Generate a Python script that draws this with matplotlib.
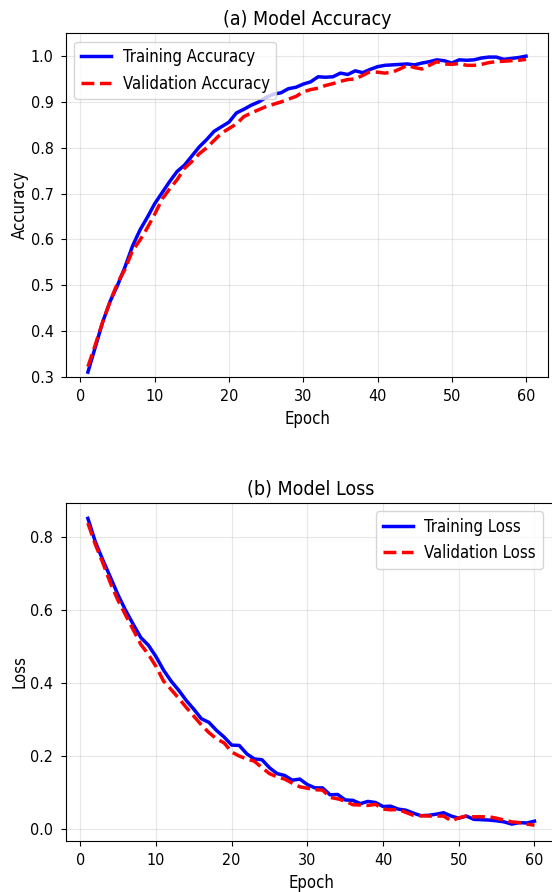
import matplotlib
matplotlib.use("Agg")
import matplotlib.pyplot as plt
import numpy as np

plt.rcParams['font.family'] = ['DejaVu Sans']
plt.rcParams['font.stretch'] = 'condensed'

epochs = np.arange(1, 61)

train_acc = [0.310, 0.365, 0.420, 0.465, 0.500, 0.540, 0.585, 0.620, 0.648, 0.678,
             0.702, 0.726, 0.748, 0.762, 0.782, 0.802, 0.818, 0.836, 0.846, 0.856,
             0.876, 0.884, 0.893, 0.900, 0.910, 0.917, 0.920, 0.929, 0.932, 0.939,
             0.944, 0.955, 0.954, 0.955, 0.963, 0.960, 0.968, 0.964, 0.971, 0.977,
             0.980, 0.981, 0.982, 0.983, 0.981, 0.985, 0.988, 0.992, 0.990, 0.985,
             0.992, 0.991, 0.992, 0.996, 0.998, 0.998, 0.993, 0.995, 0.997, 1.000]
val_acc = [0.322, 0.370, 0.420, 0.465, 0.505, 0.535, 0.575, 0.598, 0.625, 0.655,
           0.688, 0.710, 0.730, 0.755, 0.770, 0.787, 0.800, 0.816, 0.832, 0.842,
           0.852, 0.868, 0.876, 0.883, 0.890, 0.895, 0.900, 0.906, 0.912, 0.922,
           0.927, 0.930, 0.936, 0.940, 0.945, 0.949, 0.950, 0.958, 0.966, 0.965,
           0.963, 0.965, 0.972, 0.980, 0.975, 0.972, 0.980, 0.988, 0.983, 0.982,
           0.984, 0.980, 0.980, 0.982, 0.986, 0.988, 0.989, 0.990, 0.991, 0.993]

train_loss = [0.850, 0.785, 0.735, 0.688, 0.640, 0.598, 0.560, 0.524, 0.503, 0.472,
              0.435, 0.405, 0.380, 0.352, 0.328, 0.302, 0.292, 0.270, 0.252, 0.230,
              0.229, 0.206, 0.192, 0.190, 0.168, 0.152, 0.147, 0.134, 0.137, 0.122,
              0.113, 0.113, 0.094, 0.095, 0.080, 0.079, 0.070, 0.076, 0.073, 0.062,
              0.063, 0.055, 0.052, 0.044, 0.037, 0.038, 0.041, 0.045, 0.036, 0.030,
              0.036, 0.027, 0.026, 0.025, 0.023, 0.020, 0.014, 0.018, 0.017, 0.022]
val_loss = [0.837, 0.778, 0.727, 0.672, 0.625, 0.585, 0.545, 0.505, 0.478, 0.445,
            0.405, 0.382, 0.358, 0.333, 0.309, 0.285, 0.264, 0.247, 0.236, 0.211,
            0.200, 0.192, 0.186, 0.168, 0.152, 0.143, 0.137, 0.126, 0.116, 0.112,
            0.108, 0.107, 0.087, 0.083, 0.077, 0.067, 0.066, 0.065, 0.068, 0.055,
            0.053, 0.054, 0.046, 0.038, 0.037, 0.036, 0.036, 0.036, 0.023, 0.031,
            0.036, 0.034, 0.034, 0.034, 0.030, 0.025, 0.020, 0.018, 0.014, 0.011]

fig = plt.figure(figsize=(5.52, 8.92), dpi=100)
ax1 = fig.add_axes([0.1196, 0.5777, 0.873, 0.385])
ax2 = fig.add_axes([0.1187, 0.0577, 0.890, 0.3784])

# (a) accuracy
ax1.plot(epochs, train_acc, color='blue', lw=2.5, label='Training Accuracy')
ax1.plot(epochs, val_acc, color='red', lw=2.5, ls='--', label='Validation Accuracy')
ax1.set_ylim(0.3, 1.05)
ax1.set_title('(a) Model Accuracy', fontsize=14)
ax1.set_xlabel('Epoch', fontsize=12)
ax1.set_ylabel('Accuracy', fontsize=12, labelpad=1)
ax1.legend(loc='upper left', fontsize=12, handlelength=1.8, handletextpad=0.7)

# (b) loss
ax2.plot(epochs, train_loss, color='blue', lw=2.5, label='Training Loss')
ax2.plot(epochs, val_loss, color='red', lw=2.5, ls='--', label='Validation Loss')
ax2.set_title('(b) Model Loss', fontsize=14)
ax2.set_xlabel('Epoch', fontsize=12)
ax2.set_ylabel('Loss', fontsize=12, labelpad=1)
ax2.legend(loc='upper right', bbox_to_anchor=(0.988, 1.0), fontsize=12,
           handlelength=1.8, handletextpad=0.7)

for ax in (ax1, ax2):
    ax.grid(True, alpha=0.3)
    ax.tick_params(labelsize=11.5, pad=5.5)

fig.savefig('out.png', dpi=100)
